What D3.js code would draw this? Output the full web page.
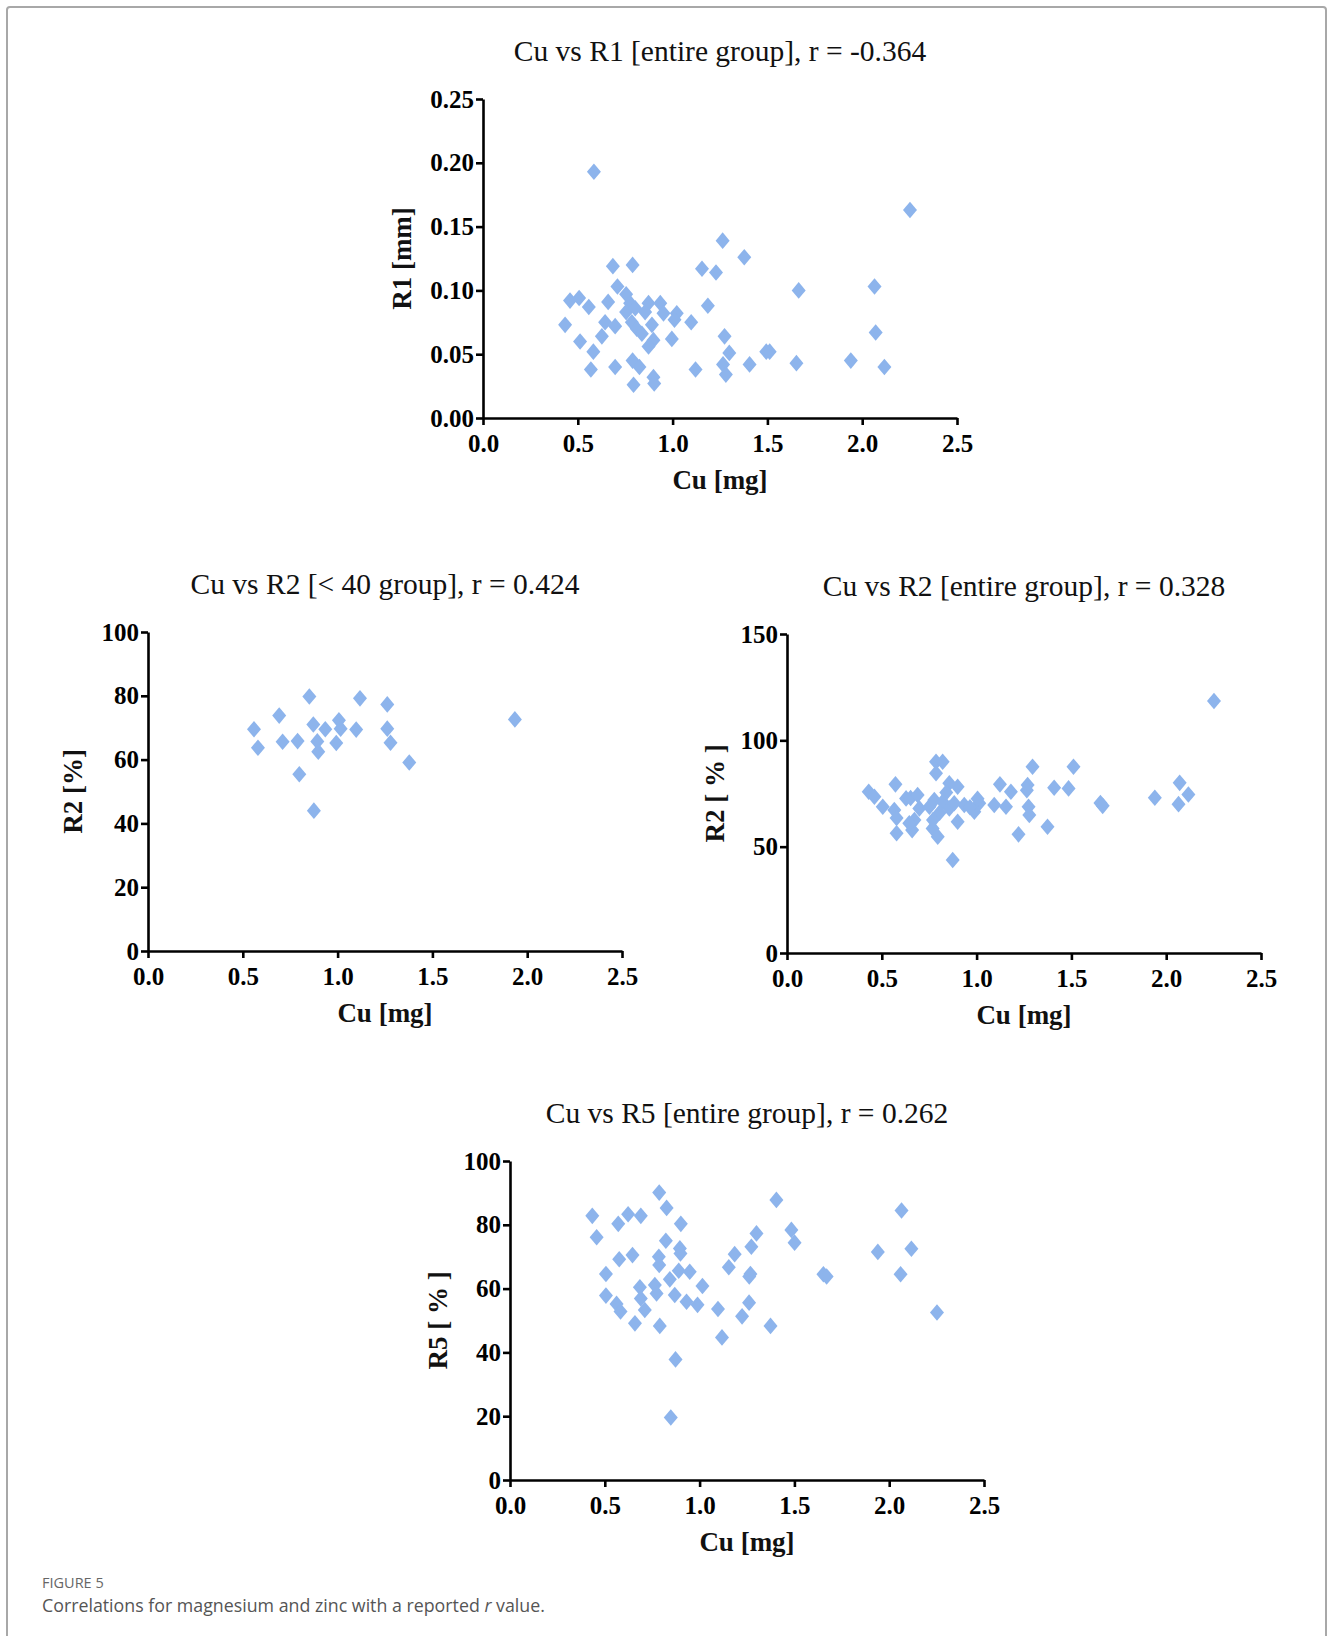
<!DOCTYPE html>
<meta charset="utf-8">
<style>
  body { margin: 0; background: #fff; }
  svg text { font-family: "Liberation Serif", "Times New Roman", serif; }
  .axis path, .axis line { stroke: #000; stroke-width: 2.6px; }
  .axis text { font-weight: bold; font-size: 25px; fill: #000; }
  .title { font-size: 29.5px; fill: #111; }
  .label { font-size: 27px; font-weight: bold; fill: #111; }
  .cap1 { font-family: "Open Sans", sans-serif !important; font-size: 14.5px; fill: #666; }
  .cap2 { font-family: "Open Sans", sans-serif !important; font-size: 17.8px; fill: #555; }
</style>
<script src="https://d3js.org/d3.v7.min.js"></script>
<div id="fig"></div>
<script>

// Cu [mg] vs R1 [mm], entire group
var r1Points = [
  [0.585,0.193],[2.252,0.163],[1.264,0.139],[1.378,0.126],[0.685,0.119],[0.789,0.120],
  [1.155,0.117],[1.229,0.114],[0.709,0.103],[0.459,0.092],[0.507,0.094],[0.558,0.087],
  [0.660,0.091],[0.755,0.097],[0.776,0.090],[0.755,0.083],[0.803,0.086],[0.873,0.090],
  [0.855,0.083],[0.935,0.090],[0.952,0.082],[1.022,0.082],[1.010,0.077],[1.186,0.088],
  [1.098,0.075],[0.433,0.073],[0.644,0.075],[0.697,0.072],[0.785,0.075],[0.811,0.070],
  [0.838,0.066],[0.891,0.073],[0.899,0.061],[0.873,0.056],[0.627,0.064],[0.512,0.060],
  [0.996,0.062],[0.582,0.052],[0.569,0.038],[0.697,0.040],[0.789,0.045],[0.825,0.040],
  [0.794,0.026],[0.899,0.032],[0.903,0.027],[1.121,0.038],[1.274,0.064],[1.266,0.042],
  [1.281,0.034],[1.299,0.051],[1.406,0.042],[1.494,0.052],[1.512,0.052],[1.665,0.100],
  [1.653,0.043],[2.065,0.103],[2.071,0.067],[1.940,0.045],[2.117,0.040]
];

// Cu [mg] vs R2 [%], < 40 group
var r2YoungPoints = [
  [0.559,69.5],[0.580,63.7],[0.692,73.8],[0.710,65.6],[0.789,65.8],[0.798,55.4],
  [0.851,79.8],[0.872,71.0],[0.893,65.7],[0.898,62.5],[0.875,44.0],[0.935,69.5],
  [0.993,65.2],[1.007,72.3],[1.016,69.7],[1.098,69.4],[1.118,79.2],[1.262,77.3],
  [1.262,69.7],[1.279,65.3],[1.378,59.1],[1.935,72.6]
];

// Cu [mg] vs R2 [%], entire group
var r2Points = [
  [2.252,118.5],[0.431,75.8],[0.461,73.5],[0.505,68.8],[0.572,79.3],[0.566,67.2],
  [0.578,63.5],[0.578,56.3],[0.628,72.7],[0.652,72.9],[0.689,74.3],[0.660,57.8],
  [0.672,62.5],[0.698,68.0],[0.786,89.9],[0.821,89.9],[0.786,84.5],[0.768,58.6],
  [0.795,54.7],[0.751,68.8],[0.777,71.9],[0.856,79.8],[0.900,78.2],[0.821,71.1],
  [0.856,68.0],[0.882,70.4],[0.900,61.7],[0.874,43.7],[0.935,69.6],[0.988,66.4],
  [1.014,70.4],[1.093,69.6],[1.123,79.3],[1.155,68.8],[1.181,75.8],[1.221,55.8],
  [1.269,79.0],[1.274,68.8],[1.278,64.9],[1.295,87.6],[1.374,59.4],[1.409,77.7],
  [1.485,77.4],[1.511,87.6],[1.653,70.5],[1.665,69.2],[1.940,73.0],[2.065,70.0],
  [2.071,80.0],[2.117,74.5],[0.805,66.0],[0.840,75.5],[0.965,68.5],[1.005,72.5],
  [1.265,76.5],[0.645,61.0],[0.770,62.5]
];

// Cu [mg] vs R5 [%], entire group
var r5Points = [
  [0.434,82.8],[0.457,76.1],[0.571,80.3],[0.623,83.3],[0.690,82.8],[0.787,90.1],
  [0.826,85.3],[0.901,80.3],[1.405,87.8],[0.822,75.0],[0.896,72.6],[0.899,71.0],
  [1.300,77.3],[1.273,73.1],[1.185,70.8],[1.154,66.7],[1.484,78.4],[1.501,74.4],
  [0.576,69.2],[0.646,70.5],[0.785,70.0],[0.787,67.4],[0.506,64.6],[0.843,62.9],
  [0.890,65.6],[0.948,65.3],[1.015,60.8],[0.506,57.8],[0.562,55.2],[0.583,52.8],
  [0.685,60.4],[0.690,56.9],[0.711,53.3],[0.764,61.1],[0.773,58.5],[0.869,58.0],
  [0.931,55.9],[0.989,54.9],[0.659,49.1],[0.790,48.3],[0.873,37.8],[0.848,19.6],
  [1.097,53.6],[1.118,44.7],[1.224,51.3],[1.261,55.6],[1.268,64.6],[1.374,48.3],
  [1.262,63.8],[1.653,64.5],[1.670,63.8],[1.940,71.5],[2.065,84.5],[2.060,64.5],
  [2.117,72.5],[2.252,52.5]
];

var xTicks = [0, 0.5, 1.0, 1.5, 2.0, 2.5];
var r1Ticks = [0, 0.05, 0.10, 0.15, 0.20, 0.25];
var pct100Ticks = [0, 20, 40, 60, 80, 100];
var pct150Ticks = [0, 50, 100, 150];

var panels = [
  {title: "Cu vs R1 [entire group], r = -0.364", ylab: "R1 [mm]", data: r1Points,
   ymax: 0.25, yticks: r1Ticks, yfmt: ".2f", left: 483, top: 99, labOff: 81},
  {title: "Cu vs R2 [< 40 group], r = 0.424", ylab: "R2 [%]", data: r2YoungPoints,
   ymax: 100, yticks: pct100Ticks, yfmt: "d", left: 148, top: 632, labOff: 75},
  {title: "Cu vs R2 [entire group], r = 0.328", ylab: "R2 [ % ]", data: r2Points,
   ymax: 150, yticks: pct150Ticks, yfmt: "d", left: 787, top: 634, labOff: 72},
  {title: "Cu vs R5 [entire group], r = 0.262", ylab: "R5 [ % ]", data: r5Points,
   ymax: 100, yticks: pct100Ticks, yfmt: "d", left: 510, top: 1161, labOff: 72}
];

var W = 1333, H = 1636, pw = 474, ph = 319;

var svg = d3.select("#fig").append("svg")
  .attr("width", W).attr("height", H);

// frame of the figure box
svg.append("rect")
  .attr("x", 7).attr("y", 7).attr("width", W - 14).attr("height", H + 20)
  .attr("rx", 3)
  .style("fill", "none").style("stroke", "#a8a8a8").style("stroke-width", 2);

// diamond a bit taller than wide
var diamond = {
  draw: function(ctx, size) {
    var w = 7, h = 8.3;
    ctx.moveTo(0, -h); ctx.lineTo(w, 0); ctx.lineTo(0, h); ctx.lineTo(-w, 0); ctx.closePath();
  }
};

panels.forEach(function(p) {
  var g = svg.append("g").attr("transform", "translate(" + p.left + "," + p.top + ")");

  var x = d3.scaleLinear().domain([0, 2.5]).range([0, pw]);
  var y = d3.scaleLinear().domain([0, p.ymax]).range([ph, 0]);

  g.append("g").attr("class", "axis")
    .attr("transform", "translate(0," + ph + ")")
    .call(d3.axisBottom(x).tickValues(xTicks).tickFormat(d3.format(".1f"))
      .tickSize(7).tickSizeOuter(0).tickPadding(9));

  g.append("g").attr("class", "axis")
    .call(d3.axisLeft(y).tickValues(p.yticks).tickFormat(d3.format(p.yfmt))
      .tickSize(7).tickSizeOuter(0).tickPadding(2));

  g.selectAll(".pt").data(p.data).enter()
    .append("path")
      .attr("class", "pt")
      .attr("d", d3.symbol().type(diamond))
      .attr("transform", function(d) { return "translate(" + x(d[0]) + "," + y(d[1]) + ")"; })
      .style("fill", "#8db4ec");

  g.append("text").attr("class", "title")
    .attr("x", pw / 2).attr("y", -38)
    .attr("text-anchor", "middle")
    .text(p.title);

  g.append("text").attr("class", "label")
    .attr("x", pw / 2).attr("y", ph + 71)
    .attr("text-anchor", "middle")
    .text("Cu [mg]");

  g.append("text").attr("class", "label")
    .attr("transform", "translate(" + (-p.labOff + 9) + "," + (ph / 2) + ") rotate(-90)")
    .attr("text-anchor", "middle")
    .text(p.ylab);
});

svg.append("text").attr("class", "cap1")
  .attr("x", 42).attr("y", 1588)
  .text("FIGURE 5");

var cap = svg.append("text").attr("class", "cap2")
  .attr("x", 42).attr("y", 1612);
cap.append("tspan").text("Correlations for magnesium and zinc with a reported ");
cap.append("tspan").style("font-style", "italic").text("r");
cap.append("tspan").text(" value.");

</script>
